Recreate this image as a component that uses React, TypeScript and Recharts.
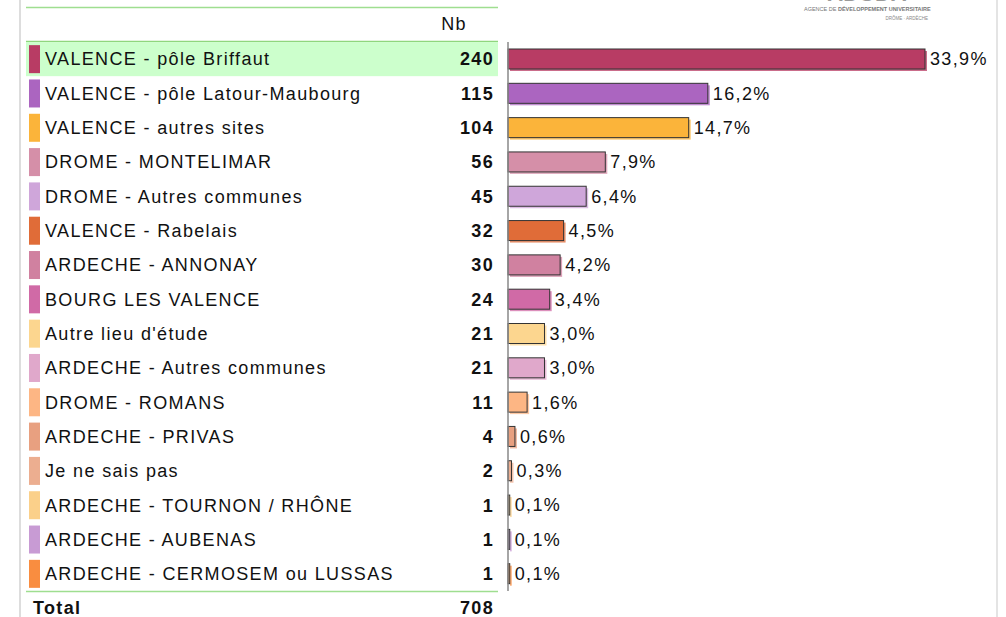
import React from 'react';
import { BarChart, Bar, XAxis, YAxis, LabelList } from 'recharts';

// Lieux d'étude
const categories = [
  'VALENCE - pôle Briffaut',
  'VALENCE - pôle Latour-Maubourg',
  'VALENCE - autres sites',
  'DROME - MONTELIMAR',
  'DROME - Autres communes',
  'VALENCE - Rabelais',
  'ARDECHE - ANNONAY',
  'BOURG LES VALENCE',
  "Autre lieu d'étude",
  'ARDECHE - Autres communes',
  'DROME - ROMANS',
  'ARDECHE - PRIVAS',
  'Je ne sais pas',
  'ARDECHE - TOURNON / RHÔNE',
  'ARDECHE - AUBENAS',
  'ARDECHE - CERMOSEM ou LUSSAS',
];
const counts = [240, 115, 104, 56, 45, 32, 30, 24, 21, 21, 11, 4, 2, 1, 1, 1];
const percents = [33.9, 16.2, 14.7, 7.9, 6.4, 4.5, 4.2, 3.4, 3.0, 3.0, 1.6, 0.6, 0.3, 0.1, 0.1, 0.1];
const colors = [
  '#b83c64', '#ab65c0', '#fbb43a', '#d58fa8', '#cfa6da', '#e06c38',
  '#d081a0', '#d06aa6', '#fcd68f', '#e0a8cb', '#fdb684', '#e8a080',
  '#ecae90', '#fbd08a', '#c89bd4', '#f98d40',
];
const total = 708;

const data = categories.map((name, i) => ({
  name,
  nb: counts[i],
  pct: percents[i],
  color: colors[i],
}));

const FONT = '"Liberation Sans", Arial, sans-serif';
const LS = 1.35; // l'original est plus espacé

function RowTick(props: any) {
  const { y, payload, index } = props;
  const row = data[index] || data.find((d) => d.name === payload.value);
  return (
    <g>
      {index === 0 && <rect x={26} y={y - 17} width={472} height={34} fill="#ccffcc" />}
      <rect x={29} y={y - 14} width={11} height={28} fill={row.color} />
      <text x={45} y={y} dy="0.35em" fontSize={18} letterSpacing={LS} fill="#111" fontFamily={FONT}>
        {payload.value}
      </text>
      <text x={494} y={y} dy="0.35em" fontSize={18} letterSpacing={LS} fontWeight="bold" fill="#111" textAnchor="end" fontFamily={FONT}>
        {row.nb}
      </text>
    </g>
  );
}

function ShadowBar(props: any) {
  const { x, y, width, height, payload } = props;
  const w = Math.max(width, 1);
  return (
    <g>
      <rect x={x + 2} y={y + 2} width={w} height={height} fill={payload.color} opacity={0.75} />
      <rect x={x} y={y} width={w} height={height} fill={payload.color} stroke="#333" strokeWidth={1} />
    </g>
  );
}

export default function App() {
  return (
    <div style={{ position: 'absolute', left: 0, top: 0, width: 1006, height: 617, background: '#fff', fontFamily: FONT }}>
      <svg width={1006} height={617} style={{ position: 'absolute', left: 0, top: 0 }}>
        <rect x={19} y={0} width={2} height={617} fill="#dddddd" />
        <rect x={996} y={0} width={2} height={617} fill="#e4e4e4" />
        <line x1={26} x2={498} y1={7.5} y2={7.5} stroke="#9fde90" strokeWidth={1.5} />
        <text x={454} y={24} dy="0.35em" fontSize={18} letterSpacing={LS} fill="#111" textAnchor="middle">Nb</text>
        <text x={867} y={1} fontSize={22} fontWeight="bold" fill="#9a9a9a" textAnchor="middle">ADUDA</text>
        <text x={804} y={11} fontSize={5.5} fill="#777">AGENCE DE <tspan fontWeight="bold">DÉVELOPPEMENT UNIVERSITAIRE</tspan></text>
        <text x={928} y={20} fontSize={4.5} fill="#888" textAnchor="end">DRÔME · ARDÈCHE</text>
        <line x1={26} x2={498} y1={41.5} y2={41.5} stroke="#8fd67e" strokeWidth={1.5} />
        <line x1={26} x2={498} y1={591.5} y2={591.5} stroke="#9fde90" strokeWidth={1.5} />
        <text x={33} y={608} dy="0.35em" fontSize={18} letterSpacing={LS} fontWeight="bold" fill="#111">Total</text>
        <text x={494} y={608} dy="0.35em" fontSize={18} letterSpacing={LS} fontWeight="bold" fill="#111" textAnchor="end">{total}</text>
      </svg>
      <div style={{ position: 'absolute', left: 0, top: 0 }}>
        <BarChart
          width={1006}
          height={617}
          data={data}
          layout="vertical"
          margin={{ top: 42, right: 81, bottom: 26, left: 0 }}
          barCategoryGap={14}
        >
          <XAxis type="number" hide domain={[0, 240]} />
          <YAxis
            type="category"
            dataKey="name"
            width={508}
            tick={<RowTick />}
            tickLine={false}
            axisLine={{ stroke: '#888', strokeWidth: 1.5 }}
            interval={0}
          />
          <Bar dataKey="nb" isAnimationActive={false} shape={<ShadowBar />} barSize={20}>
            <LabelList
              dataKey="pct"
              position="right"
              offset={5}
              formatter={(v: any) => `${Number(v).toFixed(1).replace('.', ',')}%`}
              style={{ fontSize: 18, fill: '#111', fontFamily: FONT, letterSpacing: LS }}
            />
          </Bar>
        </BarChart>
      </div>
    </div>
  );
}
